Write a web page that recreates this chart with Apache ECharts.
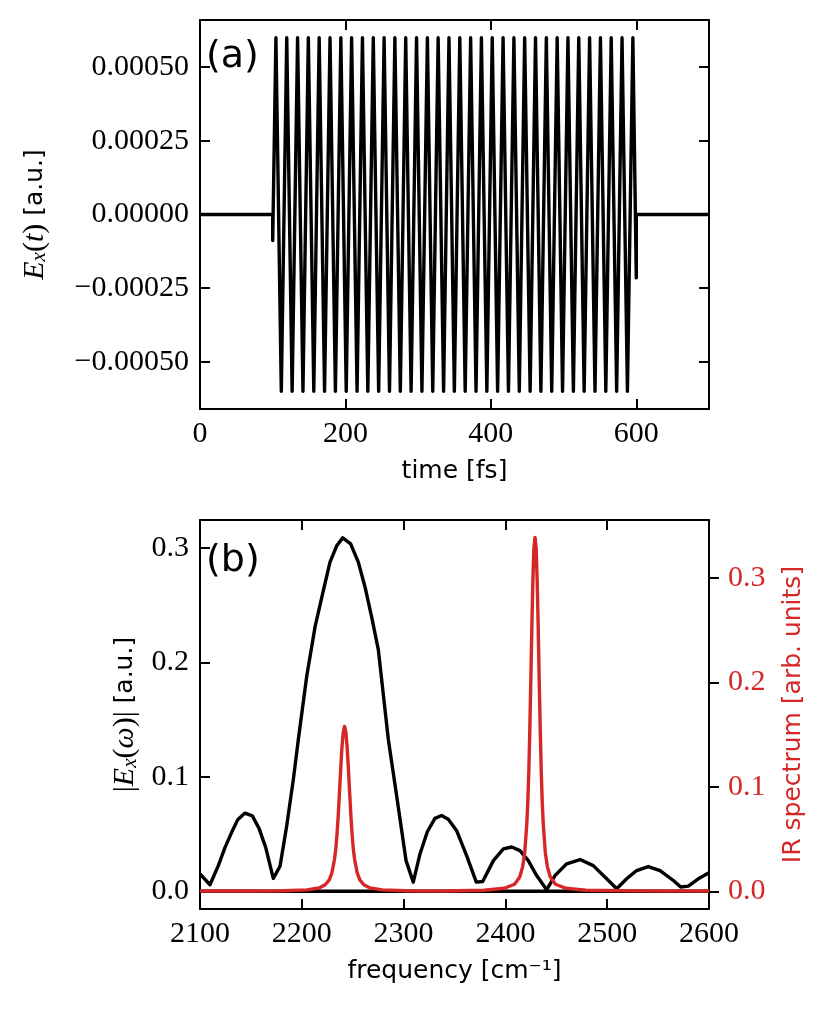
<!DOCTYPE html>
<html>
<head>
<meta charset="utf-8">
<script src="https://cdn.jsdelivr.net/npm/echarts@6/dist/echarts.min.js"></script>
<style>
  html, body { margin: 0; padding: 0; background: #fff; }
  #main { width: 831px; height: 1012px; }
</style>
</head>
<body>
<div id="main"></div>
<script>
// (a) field E_x(t): turning points (time in fs, field in a.u.)
const fieldTime = [
    0, 100, 100,
    104.4, 111.8, 119.3, 126.7, 134.2, 141.6, 149.0, 156.5, 163.9, 171.3,
    178.8, 186.2, 193.7, 201.1, 208.5, 216.0, 223.4, 230.8, 238.3, 245.7,
    253.2, 260.6, 268.0, 275.5, 282.9, 290.3, 297.8, 305.2, 312.7, 320.1,
    327.5, 335.0, 342.4, 349.8, 357.3, 364.7, 372.2, 379.6, 387.0, 394.5,
    401.9, 409.3, 416.8, 424.2, 431.7, 439.1, 446.5, 454.0, 461.4, 468.8,
    476.3, 483.7, 491.2, 498.6, 506.0, 513.5, 520.9, 528.3, 535.8, 543.2,
    550.7, 558.1, 565.5, 573.0, 580.4, 587.8, 595.3,
    600, 600, 700
];
const fieldValue = [
    0, 0, -0.000088,
    0.0006, -0.0006, 0.0006, -0.0006, 0.0006, -0.0006, 0.0006, -0.0006, 0.0006, -0.0006,
    0.0006, -0.0006, 0.0006, -0.0006, 0.0006, -0.0006, 0.0006, -0.0006, 0.0006, -0.0006,
    0.0006, -0.0006, 0.0006, -0.0006, 0.0006, -0.0006, 0.0006, -0.0006, 0.0006, -0.0006,
    0.0006, -0.0006, 0.0006, -0.0006, 0.0006, -0.0006, 0.0006, -0.0006, 0.0006, -0.0006,
    0.0006, -0.0006, 0.0006, -0.0006, 0.0006, -0.0006, 0.0006, -0.0006, 0.0006, -0.0006,
    0.0006, -0.0006, 0.0006, -0.0006, 0.0006, -0.0006, 0.0006, -0.0006, 0.0006, -0.0006,
    0.0006, -0.0006, 0.0006, -0.0006, 0.0006, -0.0006, 0.0006,
    -0.000215, 0, 0
];

// (b) |E_x(w)| in a.u.
const specFreq = [
    2100, 2109.8, 2118, 2124.6, 2131.1, 2137, 2144.2, 2151.4, 2158, 2164.5,
    2172, 2178.6, 2185.2, 2191.7, 2196.6, 2204.8, 2213, 2221.2, 2227.7, 2234.3,
    2240.2, 2248, 2255.5, 2262.1, 2268.6, 2275.2, 2285, 2293.2, 2302.4, 2309.5,
    2316.1, 2323.3, 2330.8, 2337.3, 2343.9, 2352.1, 2361.9, 2371.4, 2377.7, 2388.2,
    2398, 2406.2, 2414.3, 2422.5, 2430.7, 2440.5, 2448.7, 2460.2, 2473.3, 2486.3,
    2499.5, 2509.3, 2519.1, 2528.9, 2540.4, 2551.9, 2565, 2572.2, 2579.7, 2589.5,
    2600
];
const specAbs = [
    0.0152, 0.0057, 0.0224, 0.0384, 0.0515, 0.0624, 0.0683, 0.0659, 0.055, 0.0384,
    0.0112, 0.0219, 0.0572, 0.0978, 0.1326, 0.1877, 0.231, 0.263, 0.2877, 0.302,
    0.3089, 0.3037, 0.2877, 0.266, 0.2398, 0.211, 0.1326, 0.0833, 0.0268, 0.008,
    0.0326, 0.052, 0.0637, 0.0662, 0.063, 0.0529, 0.0311, 0.008, 0.0085, 0.0268,
    0.037, 0.0387, 0.0355, 0.0268, 0.0137, 0.0013, 0.0137, 0.024, 0.0277, 0.0224,
    0.0109, 0.0022, 0.0109, 0.0181, 0.0216, 0.0181, 0.0094, 0.0037, 0.0045, 0.0109,
    0.0162
];

// (b) IR spectrum, arb. units
const irFreq = [
    2100, 2150, 2182, 2205, 2217, 2223, 2227, 2229.5, 2232, 2233.3,
    2234.5, 2235.8, 2237, 2238.3, 2239.5, 2240.8, 2242, 2243.2, 2244.5, 2245.7,
    2247, 2248.2, 2249.5, 2250.7, 2252, 2254.5, 2257, 2261, 2267, 2279,
    2302, 2340, 2379, 2399, 2409, 2414, 2417, 2419, 2421, 2422,
    2423, 2424, 2425, 2426, 2427, 2428, 2429.1, 2430.2, 2431.2, 2432.2,
    2433.2, 2434.2, 2435.2, 2436.2, 2437.2, 2439.2, 2441.2, 2444.2, 2449.2, 2459.2,
    2479, 2530, 2600
];
const irValue = [
    0.0003, 0.0004, 0.0006, 0.0014, 0.0032, 0.0063, 0.011, 0.0174, 0.030, 0.0395,
    0.0537, 0.0727, 0.0948, 0.1185, 0.139, 0.153, 0.158, 0.153, 0.139, 0.1185,
    0.0948, 0.0727, 0.0537, 0.0395, 0.030, 0.0174, 0.011, 0.0063, 0.0032, 0.0014,
    0.0006, 0.0004, 0.0011, 0.003, 0.0068, 0.0136, 0.0237, 0.0373, 0.0644, 0.085,
    0.115, 0.156, 0.203, 0.254, 0.298, 0.329, 0.339, 0.329, 0.298, 0.254,
    0.203, 0.156, 0.115, 0.085, 0.0644, 0.0373, 0.0237, 0.0136, 0.0068, 0.003,
    0.0011, 0.0005, 0.0003
];

const timeTicks = [0, 200, 400, 600];
const freqTicks = [2100, 2200, 2300, 2400, 2500, 2600];
const fieldTicks = [-0.0005, -0.00025, 0, 0.00025, 0.0005];
const specTicks = [0, 0.1, 0.2, 0.3];

const serif = "'Liberation Serif', serif";
const sans = "'DejaVu Sans', sans-serif";
const red = '#d62728';

const pairs = (xs, ys) => xs.map((x, i) => [x, ys[i]]);
const minus = (s) => s.replace('-', '\u2212');

const spine = { onZero: false, lineStyle: { color: '#000', width: 2 } };
const tickIn = { inside: true, length: 10, lineStyle: { color: '#000', width: 2 } };

function xAxis(grid, min, max, ticks, pos, name) {
    return {
        type: 'value', gridIndex: grid, position: pos, min: min, max: max,
        axisLine: spine, splitLine: { show: false },
        axisTick: Object.assign({ customValues: ticks }, tickIn),
        axisLabel: {
            show: pos === 'bottom', customValues: ticks, color: '#000',
            fontFamily: serif, fontSize: 30, margin: 10,
            formatter: (v) => String(v)
        },
        name: name || '', nameLocation: 'middle', nameGap: 50,
        nameTextStyle: { color: '#000', fontFamily: sans, fontSize: 25 }
    };
}

const nameRich = {
    e: { fontFamily: serif, fontStyle: 'italic', fontSize: 30, color: '#000' },
    sub: { fontFamily: serif, fontStyle: 'italic', fontSize: 21, color: '#000', verticalAlign: 'bottom' },
    n: { fontFamily: serif, fontSize: 30, color: '#000' },
    s: { fontFamily: sans, fontSize: 25, color: '#000' }
};

var myChart = echarts.init(document.getElementById('main'));
var option = {
    animation: false,
    backgroundColor: '#fff',
    grid: [
        { left: 200, top: 20, width: 509, height: 389 },
        { left: 200, top: 520, width: 509, height: 389 }
    ],
    xAxis: [
        xAxis(0, 0, 700, timeTicks, 'bottom', 'time [fs]'),
        xAxis(0, 0, 700, timeTicks, 'top'),
        xAxis(1, 2100, 2600, freqTicks, 'bottom', 'frequency [cm\u207B\u00B9]'),
        xAxis(1, 2100, 2600, freqTicks, 'top')
    ],
    yAxis: [
        {
            type: 'value', gridIndex: 0, position: 'left', min: -0.00066, max: 0.00066,
            axisLine: spine, splitLine: { show: false },
            axisTick: Object.assign({ customValues: fieldTicks }, tickIn),
            axisLabel: {
                customValues: fieldTicks, color: '#000', fontFamily: serif, fontSize: 30, margin: 11,
                formatter: (v) => minus(v.toFixed(5))
            },
            name: '{e|E}{sub|x}{n|(}{e|t}{n|)}{s| [a.u.]}',
            nameLocation: 'middle', nameRotate: 90, nameGap: 150,
            nameTextStyle: { rich: nameRich }
        },
        {
            type: 'value', gridIndex: 0, position: 'right', min: -0.00066, max: 0.00066,
            axisLine: spine, splitLine: { show: false },
            axisTick: Object.assign({ customValues: fieldTicks }, tickIn),
            axisLabel: { show: false, customValues: fieldTicks }
        },
        {
            type: 'value', gridIndex: 1, position: 'left', min: -0.0155, max: 0.3245,
            axisLine: spine, splitLine: { show: false },
            axisTick: Object.assign({ customValues: specTicks }, tickIn),
            axisLabel: {
                customValues: specTicks, color: '#000', fontFamily: serif, fontSize: 30, margin: 11,
                formatter: (v) => v.toFixed(1)
            },
            name: '{n||}{e|E}{sub|x}{n|(}{e|\u03C9}{n|)|}{s| [a.u.]}',
            nameLocation: 'middle', nameRotate: 90, nameGap: 52,
            nameTextStyle: { rich: nameRich }
        },
        {
            type: 'value', gridIndex: 1, position: 'right', min: -0.0169, max: 0.3557,
            axisLine: spine, splitLine: { show: false },
            axisTick: { customValues: specTicks, inside: false, length: 10, lineStyle: { color: '#000', width: 2 } },
            axisLabel: {
                customValues: specTicks, color: red, fontFamily: serif, fontSize: 30, margin: 19,
                formatter: (v) => v.toFixed(1)
            },
            name: 'IR spectrum [arb. units]',
            nameLocation: 'middle', nameRotate: 90, nameGap: 72,
            nameTextStyle: { color: red, fontFamily: sans, fontSize: 25 }
        }
    ],
    series: [
        {
            type: 'line', xAxisIndex: 0, yAxisIndex: 0, symbol: 'none',
            data: pairs(fieldTime, fieldValue),
            lineStyle: { color: '#000', width: 3.4, join: 'round' }
        },
        {
            type: 'line', xAxisIndex: 2, yAxisIndex: 2, symbol: 'none',
            data: [[2100, 0], [2600, 0]],
            lineStyle: { color: '#000', width: 3.4 }
        },
        {
            type: 'line', xAxisIndex: 2, yAxisIndex: 2, symbol: 'none',
            data: pairs(specFreq, specAbs),
            lineStyle: { color: '#000', width: 3.4, join: 'round' }
        },
        {
            type: 'line', xAxisIndex: 2, yAxisIndex: 3, symbol: 'none', z: 5,
            data: pairs(irFreq, irValue),
            lineStyle: { color: red, width: 3.4, join: 'round' }
        }
    ],
    graphic: [
        { type: 'text', left: 206, top: 38, style: { text: '(a)', font: "38px 'DejaVu Sans'", fill: '#000' } },
        { type: 'text', left: 206, top: 542, style: { text: '(b)', font: "38px 'DejaVu Sans'", fill: '#000' } }
    ]
};
myChart.setOption(option);
</script>
</body>
</html>
